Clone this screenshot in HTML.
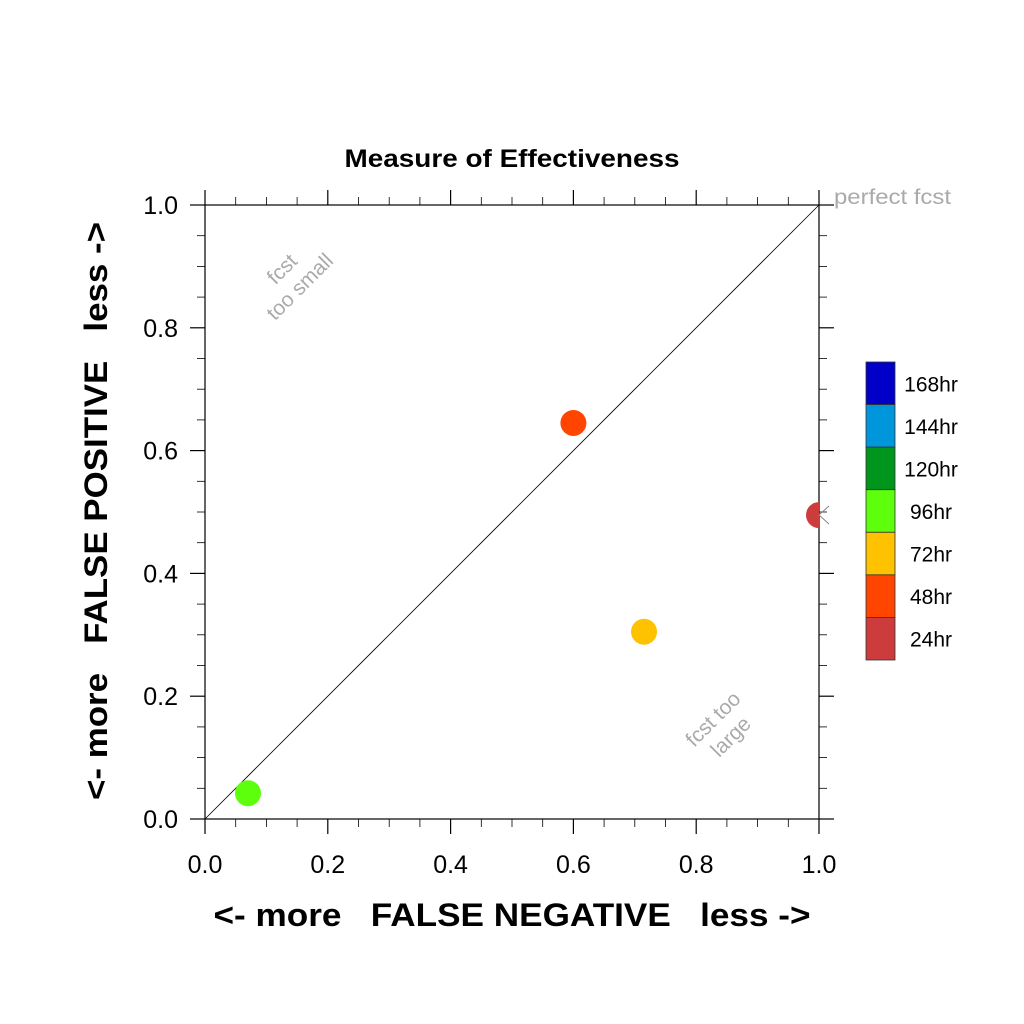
<!DOCTYPE html>
<html><head><meta charset="utf-8"><style>
body{margin:0;background:#fff}
svg{display:block;font-family:"Liberation Sans",sans-serif}
</style></head><body>
<svg id="chart" width="1024" height="1024" xmlns="http://www.w3.org/2000/svg">
<defs><clipPath id="plotclip"><rect x="205" y="205" width="614" height="614"/></clipPath></defs>
<text x="512" y="167" text-anchor="middle" font-size="25" font-weight="bold" textLength="335" lengthAdjust="spacingAndGlyphs">Measure of Effectiveness</text>
<g id="axes"></g>
<line x1="205" y1="819" x2="819" y2="205" stroke="#000" stroke-width="0.8"/>
<g id="points" clip-path="url(#plotclip)"></g>
<path d="M829,506 L819,515 L829,524" fill="none" stroke="#888" stroke-width="1"/>
<text x="834" y="204" font-size="21" fill="#aaa" textLength="117" lengthAdjust="spacingAndGlyphs">perfect fcst</text>
<text transform="translate(287,274) rotate(-45)" text-anchor="middle" font-size="21" fill="#aaa"><tspan x="0" y="0">fcst</tspan><tspan x="0" y="25">too small</tspan></text>
<text transform="translate(718,724) rotate(-45)" text-anchor="middle" font-size="21" fill="#aaa"><tspan x="0" y="0">fcst too</tspan><tspan x="0" y="25">large</tspan></text>
<text transform="translate(107,511) rotate(-90)" text-anchor="middle" font-size="32" font-weight="bold" xml:space="preserve" textLength="578" lengthAdjust="spacingAndGlyphs">&lt;- more   FALSE POSITIVE   less -&gt;</text>
<text x="512" y="926" text-anchor="middle" font-size="32" font-weight="bold" xml:space="preserve" textLength="597" lengthAdjust="spacingAndGlyphs">&lt;- more   FALSE NEGATIVE   less -&gt;</text>
<g id="legend"></g>
</svg>
<script>
const ticks=[0,0.2,0.4,0.6,0.8,1.0];
const tickLabels=["0.0","0.2","0.4","0.6","0.8","1.0"];
const falseNeg=[0.07,0.715,0.6,1.0];
const falsePos=[0.042,0.305,0.645,0.495];
const pointColors=["#5dff0d","#ffc200","#ff4500","#cd3c3c"];
const legendLabels=["168hr","144hr","120hr","96hr","72hr","48hr","24hr"];
const legendColors=["#0000c8","#0096dc","#00961e","#5dff0d","#ffc200","#ff4500","#cd3c3c"];
const NS="http://www.w3.org/2000/svg";
const X=v=>205+v*614, Y=v=>819-v*614;
function mk(t,a,p){const e=document.createElementNS(NS,t);for(const k in a)e.setAttribute(k,a[k]);p.appendChild(e);return e;}
const ax=document.getElementById('axes');
const fr=mk('rect',{x:205,y:205,width:614,height:614,fill:'none',stroke:'#000','stroke-width':1.2},ax);


for(let i=0;i<=20;i++){const v=i/20,maj=i%4==0,L=maj?15:8;
 const s={stroke:'#000','stroke-width':maj?1.2:0.8};
 mk('line',Object.assign({x1:X(v),y1:205,x2:X(v),y2:205-L},s),ax);
 mk('line',Object.assign({x1:X(v),y1:819,x2:X(v),y2:819+L},s),ax);
 mk('line',Object.assign({x1:205,y1:Y(v),x2:205-L,y2:Y(v)},s),ax);
 mk('line',Object.assign({x1:819,y1:Y(v),x2:819+L,y2:Y(v)},s),ax);}
ticks.forEach((v,i)=>{
 const tx=mk('text',{x:X(v),y:873,'text-anchor':'middle','font-size':25},ax);tx.textContent=tickLabels[i];
 
 
 const ty=mk('text',{x:178,y:Y(v)+9,'text-anchor':'end','font-size':25},ax);ty.textContent=tickLabels[i];
 
 });
const pg=document.getElementById('points');
falseNeg.forEach((v,i)=>{const c=mk('circle',{cx:X(v),cy:Y(falsePos[i]),r:13,fill:pointColors[i]},pg);
 
 });
const lg=document.getElementById('legend');const bh=298/7;
legendLabels.forEach((l,i)=>{const y=362+i*bh;
 const r=mk('rect',{x:866,y:y,width:29,height:bh,fill:legendColors[i],stroke:'#333','stroke-width':0.8},lg);
 
 
 const t=mk('text',{x:931,y:y+bh/2+8,'text-anchor':'middle','font-size':21},lg);t.textContent=l;
 
 });
</script>
</body></html>
